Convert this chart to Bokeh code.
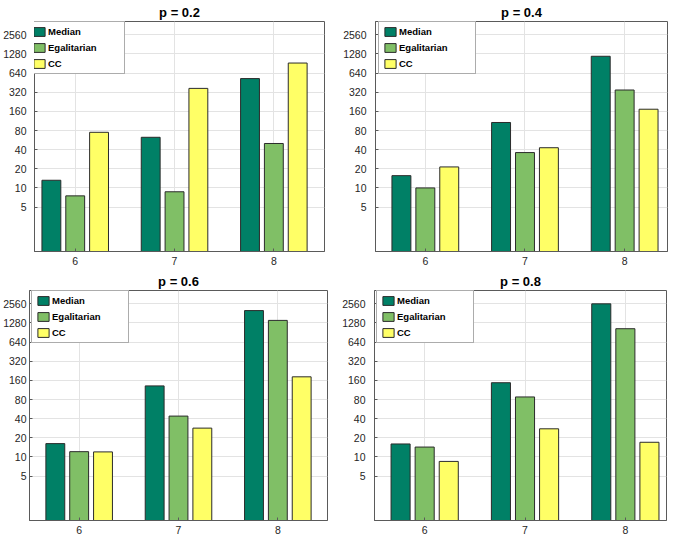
from bokeh.plotting import figure
from bokeh.layouts import column, row
from bokeh.models import ColumnDataSource, Range1d, FixedTicker, NumeralTickFormatter
from bokeh.transform import dodge
from bokeh.embed import file_html
from bokeh.resources import INLINE

# ---- data ----
sizes = [6, 7, 8]
series_names = ["Median", "Egalitarian", "CC"]
titles = ["p = 0.2", "p = 0.4", "p = 0.6", "p = 0.8"]

median_02 = [13.2, 62.6, 525]
egal_02 = [7.5, 8.7, 50]
cc_02 = [75, 368, 922]

median_04 = [15.6, 107, 1178]
egal_04 = [10, 36, 347]
cc_04 = [21.4, 42.9, 173]

median_06 = [16.2, 131, 2005]
egal_06 = [12.1, 43.9, 1405]
cc_06 = [12, 28.4, 182]

median_08 = [16, 147, 2560]
egal_08 = [14.3, 87.8, 1040]
cc_08 = [8.5, 27.7, 17]

y_ticks = [5, 10, 20, 40, 80, 160, 320, 640, 1280, 2560]

# ---- styling ----
colors = ["#008066", "#80BF66", "#FFFF66"]
offsets = [-0.24, 0.0, 0.24]
FONT = "Liberation Sans"
FH = 230

panels = [
    dict(title=titles[0], data=(median_02, egal_02, cc_02), xr=(5.59, 8.51), fw=290,
         bl=32, br=16, stand=8, lx=-7),
    dict(title=titles[1], data=(median_04, egal_04, cc_04), xr=(5.5, 8.43), fw=292,
         bl=33, br=2, stand=9, lx=3),
    dict(title=titles[2], data=(median_06, egal_06, cc_06), xr=(5.5, 8.5), fw=298,
         bl=27, br=12, stand=3, lx=2),
    dict(title=titles[3], data=(median_08, egal_08, cc_08), xr=(5.5, 8.41), fw=292,
         bl=33, br=2, stand=9, lx=2),
]

figs = []
for cfg in panels:
    m, e, c = cfg["data"]
    src = ColumnDataSource(dict(x=sizes, Median=m, Egalitarian=e, CC=c))
    p = figure(frame_width=cfg["fw"], frame_height=FH,
               x_range=Range1d(*cfg["xr"]), y_range=Range1d(1, 4150),
               y_axis_type="log", output_backend="svg", toolbar_location=None,
               min_border_left=cfg["bl"], min_border_right=cfg["br"],
               min_border_top=17, min_border_bottom=18,
               title=cfg["title"])
    for name, col, off in zip(series_names, colors, offsets):
        p.vbar(x=dodge("x", off), top=name, bottom=1, width=0.19, source=src,
               fill_color=col, line_color="#2b2b2b", line_width=1, legend_label=name)

    p.title.align = "center"
    p.title.text_font = FONT
    p.title.text_font_size = "13px"
    p.title.text_font_style = "bold"
    p.title.text_color = "#000000"
    p.title.standoff = 4

    p.xaxis.ticker = FixedTicker(ticks=sizes)
    p.yaxis.ticker = FixedTicker(ticks=y_ticks)
    p.yaxis.formatter = NumeralTickFormatter(format="0")
    for ax in (p.xaxis, p.yaxis):
        ax.major_label_text_font = FONT
        ax.major_label_text_font_size = "10.5px"
        ax.major_label_text_color = "#262626"
        ax.axis_line_color = "#5a5a5a"
        ax.major_tick_line_color = "#5a5a5a"
        ax.major_tick_in = 3
        ax.major_tick_out = 0
        ax.minor_tick_line_color = None
    p.yaxis.major_label_standoff = cfg["stand"]
    p.xaxis.major_label_standoff = 5

    p.xgrid.ticker = FixedTicker(ticks=sizes)
    p.ygrid.ticker = FixedTicker(ticks=y_ticks)
    p.grid.grid_line_color = "#e3e3e3"
    p.grid.grid_line_width = 1
    p.outline_line_color = "#5a5a5a"
    p.outline_line_width = 1
    p.background_fill_color = "white"
    p.border_fill_color = "white"

    lg = p.legend[0]
    lg.location = (cfg["lx"], FH - 2 - 51)
    lg.label_text_font = FONT
    lg.label_text_font_size = "9.5px"
    lg.label_text_font_style = "bold"
    lg.label_text_color = "#000000"
    lg.glyph_width = 14
    lg.glyph_height = 11
    lg.label_height = 11
    lg.label_width = 72
    lg.label_standoff = 2
    lg.padding = 4
    lg.spacing = 5
    lg.margin = 0
    lg.border_line_color = "#5a5a5a"
    lg.border_line_width = 1
    lg.background_fill_alpha = 1.0
    figs.append(p)

layout = column(row(figs[0], figs[1]), row(figs[2], figs[3]))

open("out.html", "w").write(file_html(layout, INLINE))
